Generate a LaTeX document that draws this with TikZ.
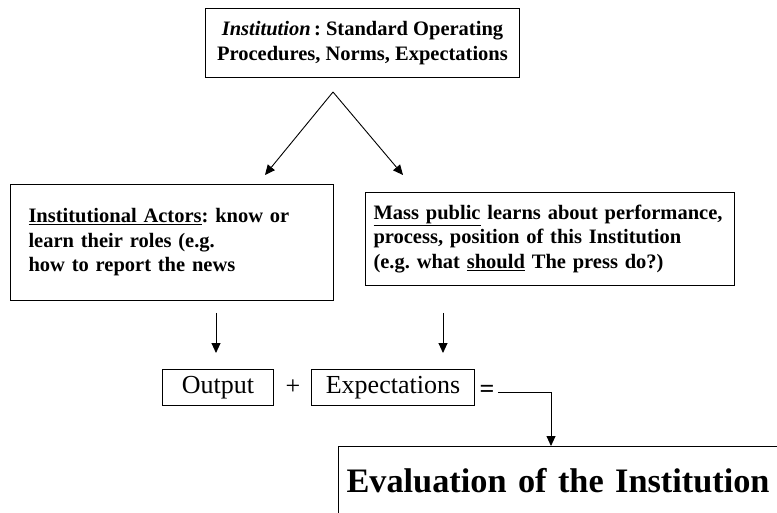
\documentclass[tikz,border=0pt]{standalone}
\usepackage{fontspec}
\setmainfont{Liberation Serif}
\usetikzlibrary{arrows.meta}
\frenchspacing
\tikzset{%
    panel/.style={draw, line width=1pt, inner sep=0pt, anchor=north west,
        font=\fontsize{20.5}{24.5}\selectfont\bfseries},
    term/.style={draw, line width=1pt, inner sep=0pt, anchor=north west,
        minimum height=36pt, font=\fontsize{26}{30}\selectfont},
    flow/.style={line width=0.9pt, -{Triangle[length=10pt,width=9pt]}}
}

\begin{document}
\begin{tikzpicture}[x=1pt,y=-1pt]
    \useasboundingbox (0,0) rectangle (777,513);
    \clip (0,0) rectangle (777,513);
    \node[panel, minimum width=314pt, minimum height=69pt, align=center] (inst) at (205,8)
        {\textit{Institution}\,: Standard Operating\\Procedures, Norms, Expectations};
    \node[panel, minimum height=116pt, text width=287pt, inner xsep=18pt, align=left] (actors) at (10,184)
        {\underline{Institutional Actors}: know or\\learn their roles (e.g.\\how to report the news};
    \node[panel, minimum height=93pt, text width=353pt, inner xsep=8pt, align=left] (public) at (365,192)
        {\underline{Mass public} learns about performance,\\process, position of this Institution\\(e.g. what \underline{should} The press do?)};
    \node[term, minimum width=111pt] (output) at (162,369) {Output};
    \node[term, minimum width=163pt] (expect) at (311,369) {Expectations};
    \node[font=\fontsize{26}{30}\selectfont] (plus) at (293,387) {+};
    \node[font=\fontsize{26}{30}\selectfont\bfseries] (equals) at (487,391) {=};
    \node[panel, text width=442pt, inner xsep=8pt, inner ysep=22pt, text depth=45pt,
        font=\fontsize{34.3}{40}\selectfont\bfseries, align=left] (eval) at (338,446)
        {Evaluation of the Institution};
    % arrows
    \coordinate (fork) at (333,92);
    \coordinate (toactors) at (265,175);
    \coordinate (topublic) at (403,175);
    \draw[flow] (fork) -- (toactors);
    \draw[flow] (fork) -- (topublic);
    \coordinate (outtop) at (216,313);
    \coordinate (exptop) at (443,313);
    \draw[flow] (outtop) -- ++(0,40);
    \draw[flow] (exptop) -- ++(0,40);
    \coordinate (turn) at (551,392);
    \draw[flow] (equals.east |- turn) -- (turn) -- (eval.north west -| turn);
\end{tikzpicture}
\end{document}
